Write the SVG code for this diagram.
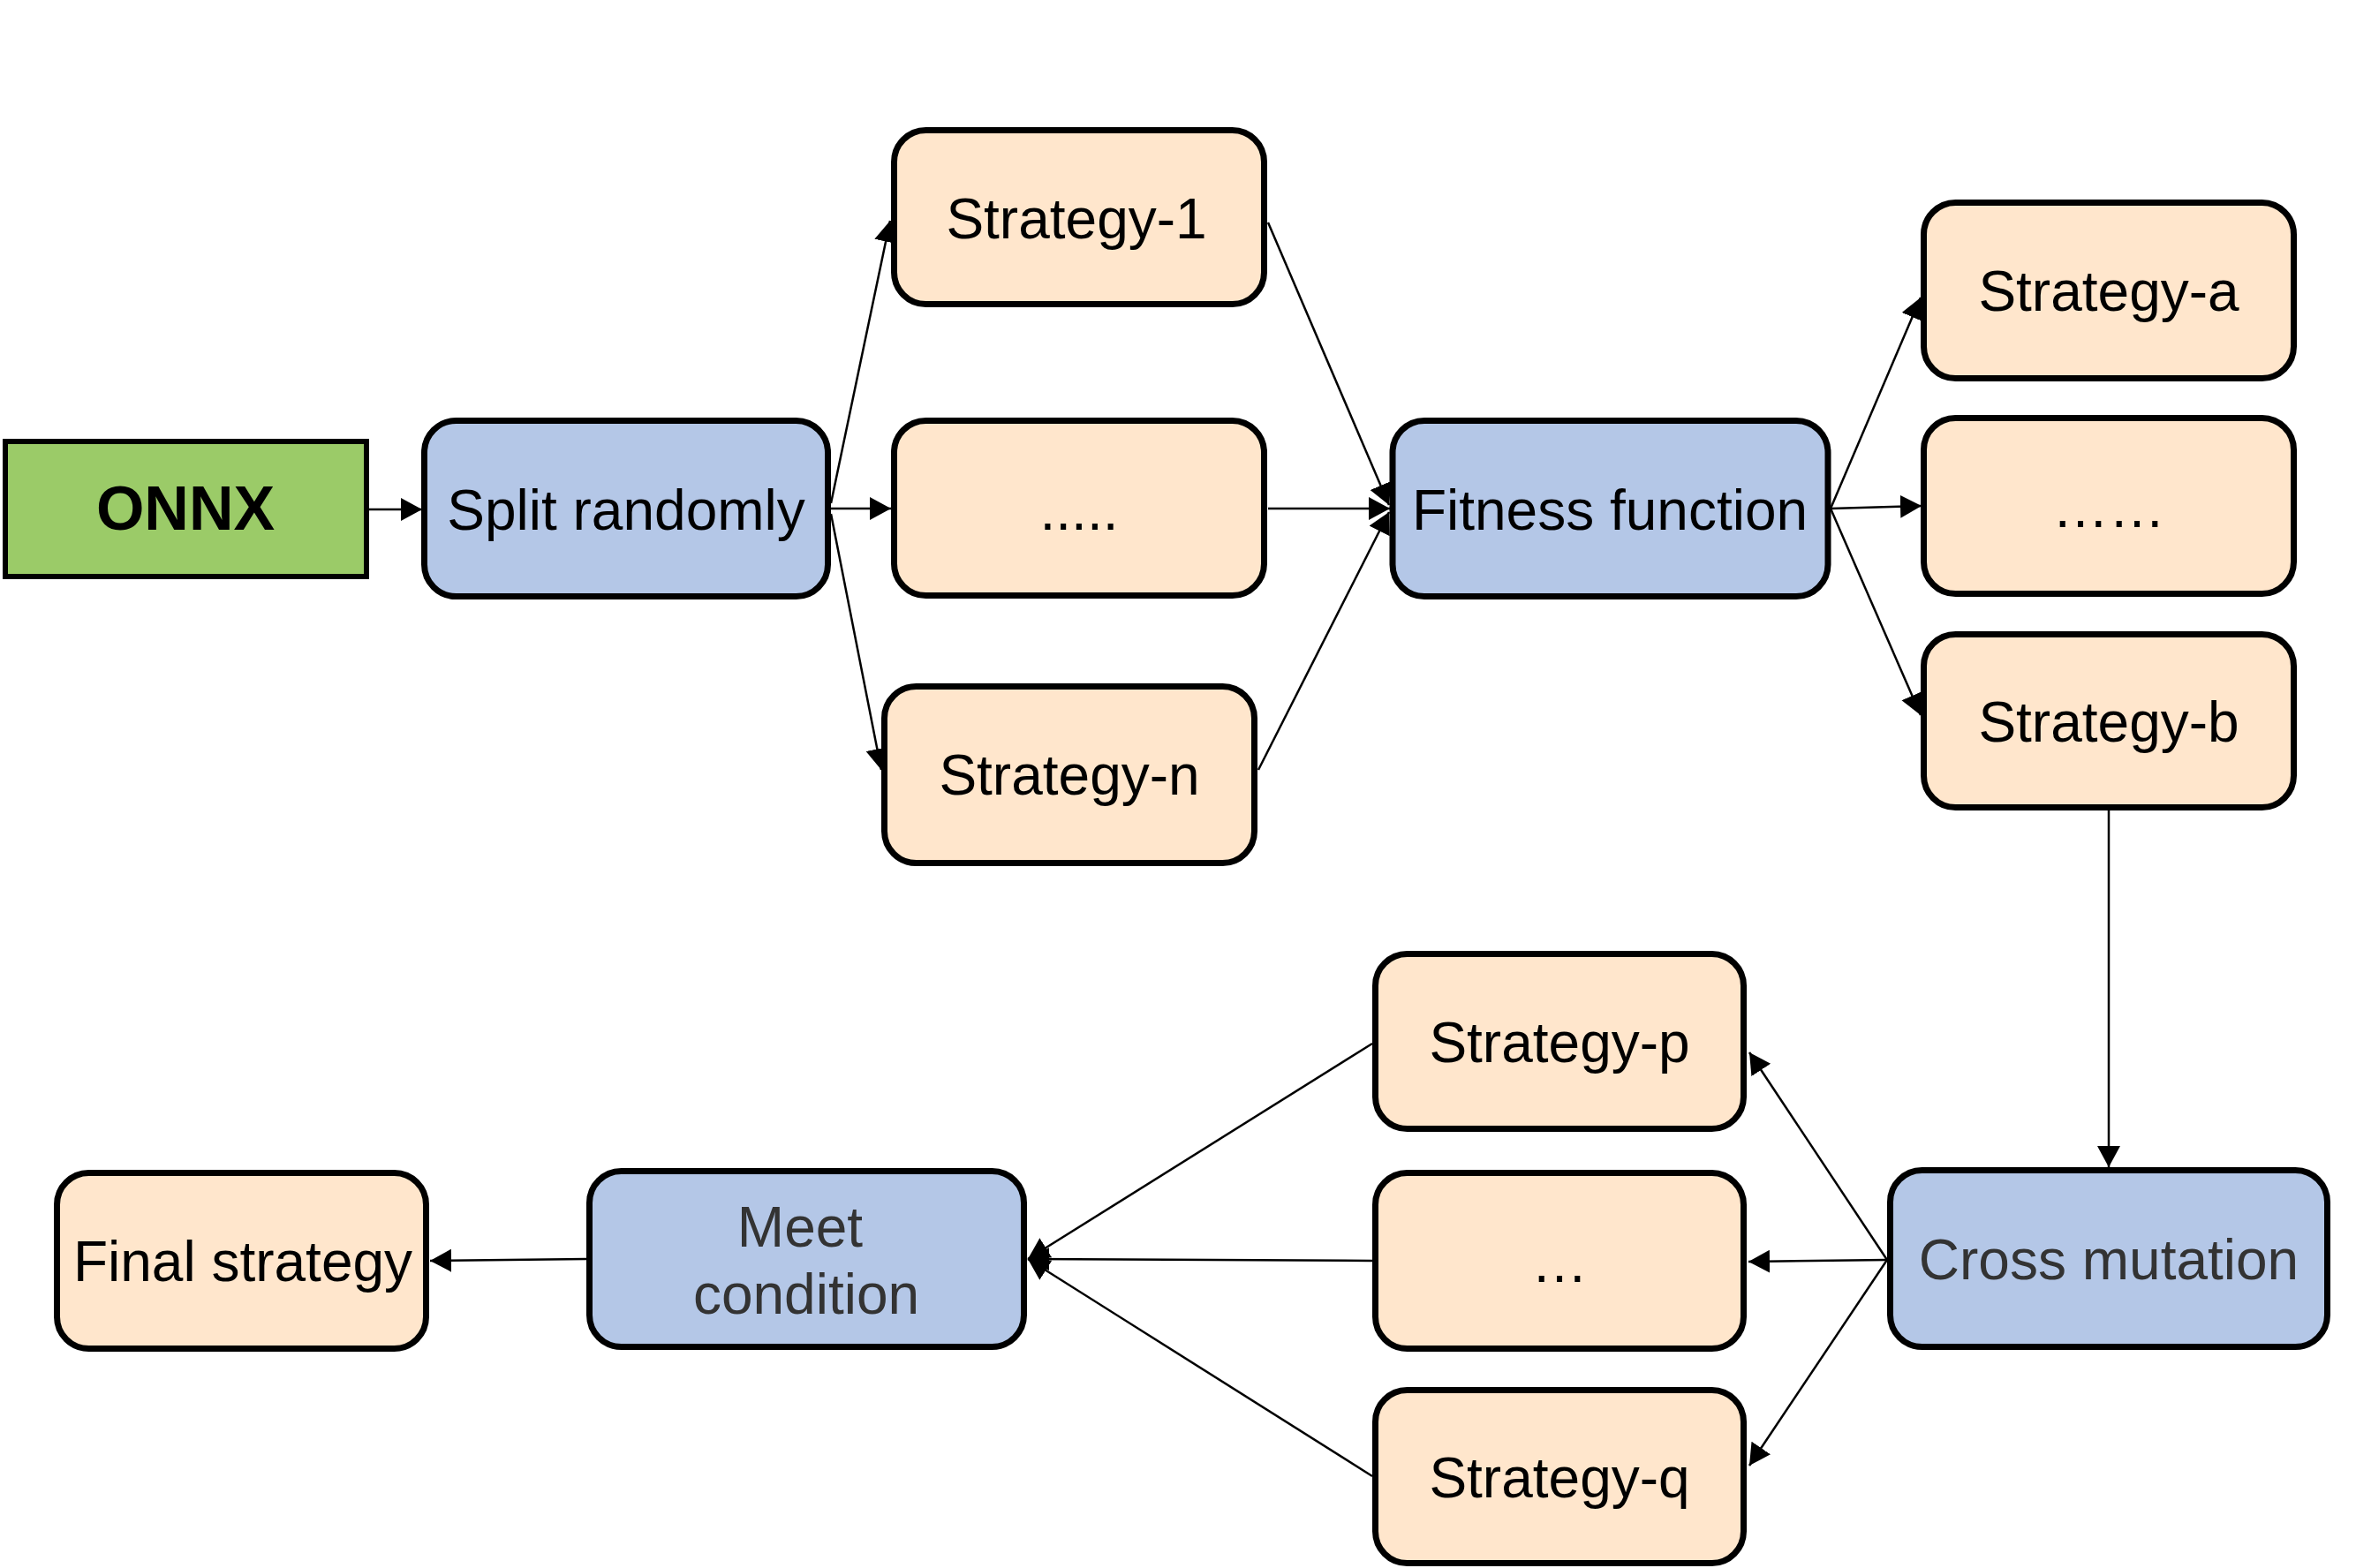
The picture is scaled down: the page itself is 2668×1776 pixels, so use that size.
<svg xmlns="http://www.w3.org/2000/svg" width="2668" height="1776" viewBox="0 0 2668 1776">
<style>
.box{stroke:#000;stroke-width:7}
.blue{fill:#B4C7E7}
.peach{fill:#FFE6CC}
.green{fill:#9BCB68}
.t{font-family:"Liberation Sans",Arial,sans-serif;font-size:64px;text-anchor:middle;fill:#000}
.g{fill:#333}
.c line{stroke:#000;stroke-width:2.5;fill:none;marker-end:url(#ah)}
</style>
<defs>
<marker id="ah" markerUnits="userSpaceOnUse" markerWidth="26" markerHeight="28" refX="24" refY="13" orient="auto">
<path d="M0,0 L24,13 L0,26 z" fill="#000"/>
</marker>
</defs>
<rect width="2668" height="1776" fill="#fff"/>
<g class="c" id="connectors">
<line x1="418" y1="577" x2="478" y2="577"/>
<line x1="941" y1="570" x2="1008" y2="250"/>
<line x1="941" y1="576" x2="1009" y2="576"/>
<line x1="941" y1="582" x2="998" y2="872"/>
<line x1="1436" y1="252" x2="1573" y2="572"/>
<line x1="1436" y1="576" x2="1574" y2="576"/>
<line x1="1425" y1="872" x2="1573" y2="580"/>
<line x1="2073" y1="576" x2="2175" y2="337"/>
<line x1="2073" y1="576" x2="2176" y2="573"/>
<line x1="2073" y1="576" x2="2175" y2="810"/>
<line x1="2388" y1="918" x2="2388" y2="1322"/>
<line x1="2137" y1="1427" x2="1981" y2="1192"/>
<line x1="2137" y1="1427" x2="1980" y2="1429"/>
<line x1="2137" y1="1427" x2="1981" y2="1660"/>
<line x1="1554" y1="1182" x2="1164" y2="1426"/>
<line x1="1554" y1="1428" x2="1164" y2="1426"/>
<line x1="1554" y1="1672" x2="1164" y2="1426"/>
<line x1="664" y1="1426" x2="487" y2="1428"/>
</g>
<g id="onnx"><rect class="box green" x="6" y="500" width="409" height="153" style="stroke-width:6"/><text class="t" x="210" y="600" style="font-weight:bold;font-size:70px">ONNX</text></g>
<g id="split"><rect class="box blue" x="480.5" y="476.5" width="457" height="199" rx="36"/><text class="t" x="709" y="600">Split randomly</text></g>
<g id="s1"><rect class="box peach" x="1012.5" y="147.5" width="419" height="197" rx="36"/><text class="t" x="1219" y="270">Strategy-1</text></g>
<g id="sdots"><rect class="box peach" x="1012.5" y="476.5" width="419" height="198" rx="36"/><text class="t" x="1222" y="600">.....</text></g>
<g id="sn"><rect class="box peach" x="1001.5" y="777.5" width="419" height="200" rx="36"/><text class="t" x="1211" y="900">Strategy-n</text></g>
<g id="fitness"><rect class="box blue" x="1577" y="476.5" width="493" height="199" rx="36"/><text class="t" x="1823" y="600">Fitness function</text></g>
<g id="sa"><rect class="box peach" x="2178.5" y="229.5" width="419" height="199" rx="36"/><text class="t" x="2388" y="352">Strategy-a</text></g>
<g id="sdots2"><rect class="box peach" x="2178.5" y="473.5" width="419" height="199" rx="36"/><text class="t" x="2388" y="597">……</text></g>
<g id="sb"><rect class="box peach" x="2178.5" y="718.5" width="419" height="196" rx="36"/><text class="t" x="2388" y="840">Strategy-b</text></g>
<g id="cross"><rect class="box blue" x="2140.5" y="1325.5" width="495" height="200" rx="36"/><text class="t g" x="2388" y="1449">Cross mutation</text></g>
<g id="sp"><rect class="box peach" x="1557.5" y="1080.5" width="417" height="198" rx="36"/><text class="t" x="1766" y="1203">Strategy-p</text></g>
<g id="sdots3"><rect class="box peach" x="1557.5" y="1328.5" width="417" height="199" rx="36"/><text class="t" x="1766" y="1452">…</text></g>
<g id="sq"><rect class="box peach" x="1557.5" y="1574.5" width="417" height="196" rx="36"/><text class="t" x="1766" y="1696">Strategy-q</text></g>
<g id="meet"><rect class="box blue" x="667.5" y="1326.5" width="492" height="199" rx="36"/><text class="t g" x="906" y="1412">Meet</text><text class="t g" x="913" y="1488">condition</text></g>
<g id="final"><rect class="box peach" x="64.5" y="1328.5" width="418" height="199" rx="36"/><text class="t" x="275" y="1451">Final strategy</text></g>
</svg>
